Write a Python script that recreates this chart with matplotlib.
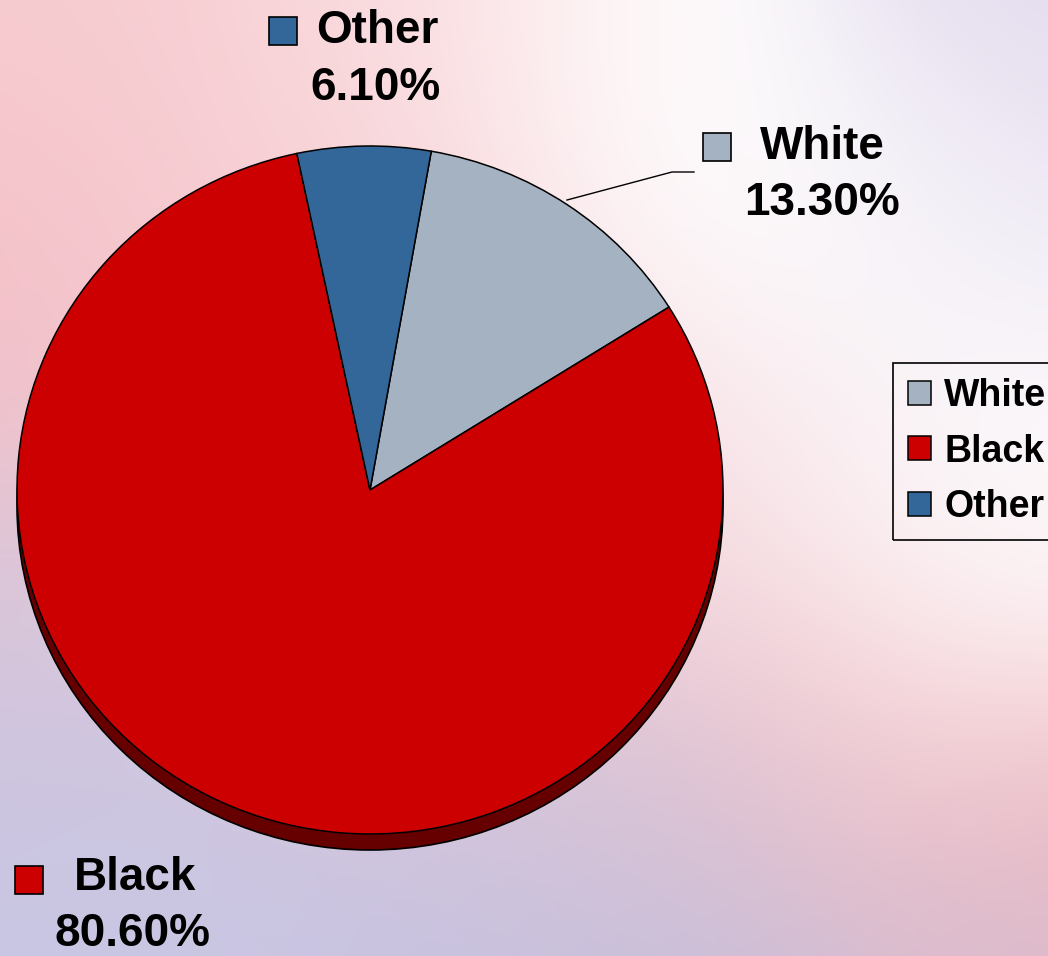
import numpy as np
import matplotlib
matplotlib.use("Agg")
import matplotlib.pyplot as plt
from matplotlib.patches import Ellipse, Rectangle

plt.rcParams['font.family'] = ['Liberation Sans', 'DejaVu Sans']

# ---- data ----
categories = ["White", "Black", "Other"]
shares = [13.3, 80.6, 6.1]
label_text = ["13.30%", "80.60%", "6.10%"]
colors = ["#A4B2C1", "#CC0000", "#336699"]
shadow_color = "#660000"

W, H = 1048, 956
fig = plt.figure(figsize=(W / 100, H / 100), dpi=100)

# ---- background gradient ----
yy, xx = np.mgrid[0:H, 0:W]
blobs = [
    (60, 60, "#f7cdd1", 170), (20, 300, "#f4b9c2", 150), (230, 230, "#f7d0d5", 170),
    (420, 60, "#fbdfe2", 140), (640, 70, "#ffffff", 130), (780, 240, "#ffffff", 130),
    (1020, 40, "#e4dcee", 140), (960, 230, "#f4f1f8", 120),
    (930, 620, "#ffffff", 150), (1020, 480, "#fbf8fb", 130),
    (20, 620, "#dcc8da", 150), (60, 800, "#c4c1e0", 160), (100, 930, "#cacbe8", 150),
    (420, 920, "#c1c1e2", 170), (700, 935, "#bebcdc", 140), (640, 820, "#d6c4d8", 120),
    (790, 740, "#f2b8be", 130), (1010, 830, "#f2b0b5", 140), (1000, 950, "#cfbfd8", 120),
    (420, 560, "#f2ccd3", 220), (700, 500, "#f8e4e8", 150),
]
num = np.zeros((H, W, 3))
den = np.zeros((H, W))
for bx, by, c, s in blobs:
    w = np.exp(-((xx - bx) ** 2 + (yy - by) ** 2) / (2 * s ** 2))
    num += w[..., None] * np.array(matplotlib.colors.to_rgb(c))
    den += w
bg = num / np.maximum(den, 1e-12)[..., None]
ax_bg = fig.add_axes([0, 0, 1, 1], zorder=0)
ax_bg.imshow(bg, extent=(0, W, H, 0), aspect="auto", interpolation="bilinear")
ax_bg.set_xlim(0, W)
ax_bg.set_ylim(H, 0)
ax_bg.axis("off")

# ---- pie ----
cx, cy, rx, ry = 370, 490, 353, 344
ax = fig.add_axes([0, 0, 1, 1], zorder=1)
ax.patch.set_alpha(0)
depth = 16 / ry
ax.add_patch(Ellipse((0, -depth), 2, 2, facecolor=shadow_color, edgecolor="black", linewidth=1.2, zorder=0))
ax.add_patch(Rectangle((-1, -depth), 2, depth, facecolor=shadow_color, edgecolor="none", zorder=0))
wedges, _ = ax.pie(shares, colors=colors, startangle=80, counterclock=False,
                   wedgeprops=dict(edgecolor="black", linewidth=1.1), frame=True)
ax.set_aspect("auto")
ax.set_xlim(-cx / rx, (W - cx) / rx)
ax.set_ylim(-(H - cy) / ry, cy / ry)
ax.axis("off")

# ---- overlay for labels (pixel coordinates) ----
ov = fig.add_axes([0, 0, 1, 1], zorder=2)
ov.patch.set_alpha(0)
ov.set_xlim(0, W)
ov.set_ylim(H, 0)
ov.axis("off")

# label layout: (square x, square y, name x, name y, value x, value y)
layout = {
    "White": (703, 133, 822, 147, 822, 203),
    "Black": (15, 866, 135, 878, 133, 934),
    "Other": (269, 17, 377, 31, 375, 88),
}
fs = 33
for name, val, col in zip(categories, label_text, colors):
    sx, sy, nx, ny, vx, vy = layout[name]
    ov.add_patch(Rectangle((sx, sy), 28, 28, facecolor=col, edgecolor="black", linewidth=1.2))
    ov.text(nx, ny, name, fontsize=fs, fontweight="bold", ha="center", va="center")
    ov.text(vx, vy, val, fontsize=fs, fontweight="bold", ha="center", va="center")

# leader line for White
ov.plot([567, 672, 694], [200, 172, 172], color="black", linewidth=1)

# ---- legend ----
leg = fig.legend(wedges, categories, loc="upper left",
                 bbox_to_anchor=(893 / W, 1 - 363 / H),
                 prop=dict(size=27, weight="bold"),
                 frameon=True, fancybox=False, framealpha=1, facecolor="none",
                 edgecolor="black", handlelength=0.62, handleheight=0.62,
                 handletextpad=0.35, labelspacing=0.52, borderpad=0.4,
                 borderaxespad=0)
leg.get_frame().set_linewidth(1.2)
leg.set_zorder(3)

fig.savefig("out.png", dpi=100)
